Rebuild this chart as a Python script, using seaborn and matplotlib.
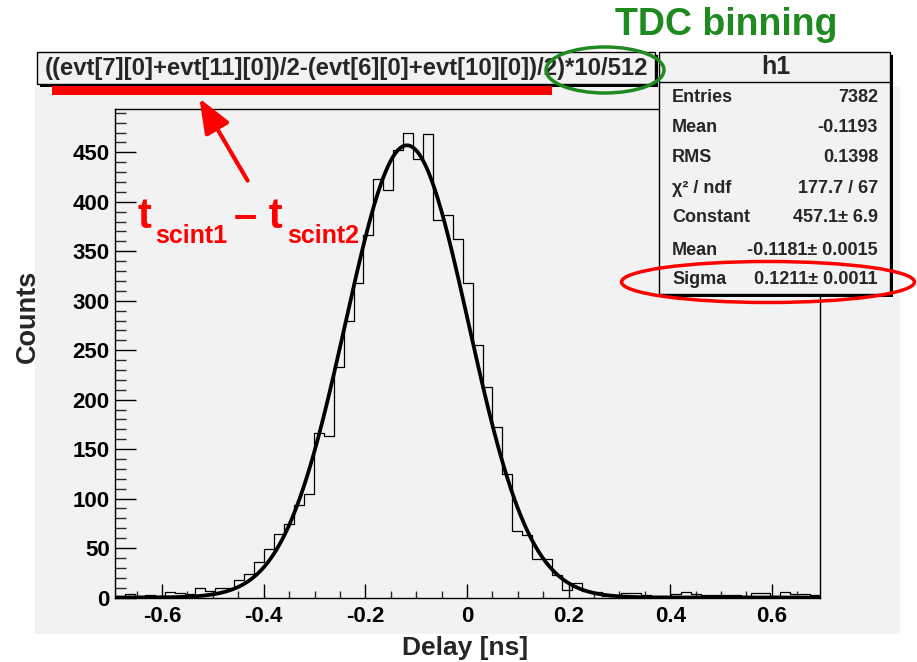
import numpy as np
import pandas as pd
import matplotlib
matplotlib.use("Agg")
import matplotlib.pyplot as plt
import seaborn as sns
from matplotlib.patches import Rectangle, Ellipse, FancyArrowPatch
from matplotlib.ticker import MultipleLocator, FixedLocator

sns.set_style("ticks")
plt.rcParams["font.family"] = ["Liberation Sans", "DejaVu Sans"]
plt.rcParams["font.weight"] = "bold"

# ---------------- data ----------------
BIN_WIDTH = 10 / 512
X_MIN = -0.692
COUNTS = [1, 4, 2, 3, 2, 6, 5, 4, 10, 7, 10, 10,
          18, 24, 36, 49, 64, 74, 93, 105, 166, 163,
          233, 280, 318, 366, 423, 412, 452, 470, 443, 469,
          382, 387, 362, 318, 255, 213, 172, 125, 67, 63,
          39, 39, 23,
          8, 15, 7, 6, 2, 2, 5, 5, 3, 1, 1, 4, 6, 4, 3, 3, 3, 3, 2, 5, 5, 2, 6, 4, 4, 3]
FIT_CONSTANT = 457.1
FIT_MEAN = -0.1181
FIT_SIGMA = 0.1211

XTICKS = [-0.6, -0.4, -0.2, 0.0, 0.2, 0.4, 0.6]
XTICK_LABELS = ["-0.6", "-0.4", "-0.2", "0", "0.2", "0.4", "0.6"]

TITLE = "((evt[7][0]+evt[11][0])/2-(evt[6][0]+evt[10][0])/2)*10/512"
STAT_NAME = "h1"
STAT_LABELS = ["Entries", "Mean", "RMS", "\u03c7\u00b2 / ndf", "Constant", "Mean", "Sigma"]
STAT_VALUES = ["7382", "-0.1193", "0.1398", "177.7 / 67", "457.1\u00b1 6.9",
               "-0.1181\u00b1 0.0015", "0.1211\u00b1 0.0011"]
XLABEL = "Delay [ns]"
YLABEL = "Counts"
NOTE = "TDC binning"

# ---------------- derived ----------------
edges = X_MIN + BIN_WIDTH * np.arange(len(COUNTS) + 1)
centers = 0.5 * (edges[:-1] + edges[1:])
hist_df = pd.DataFrame({"delay": centers, "counts": COUNTS})
xs = np.linspace(edges[0], edges[-1], 600)
fit_df = pd.DataFrame({"delay": xs,
                       "fit": FIT_CONSTANT * np.exp(-0.5 * ((xs - FIT_MEAN) / FIT_SIGMA) ** 2)})

W, H = 917, 662
fig = plt.figure(figsize=(W / 100, H / 100), dpi=100, facecolor="white")


def fx(px):
    return px / W


def fy(py):
    return 1 - py / H


GRAY = "#f2f2f2"
fig.patches.append(Rectangle((fx(35), fy(634)), fx(900) - fx(35), fy(86) - fy(634),
                             transform=fig.transFigure, facecolor=GRAY, edgecolor="none", zorder=-5))

ax = fig.add_axes([fx(115.3), fy(597.5), fx(820) - fx(115.3), fy(109.3) - fy(597.5)])
ax.set_facecolor(GRAY)

sns.histplot(data=hist_df, x="delay", weights="counts", bins=edges.tolist(), element="step",
             fill=False, color="black", linewidth=0.9, ax=ax)
sns.lineplot(data=fit_df, x="delay", y="fit", color="black", linewidth=2.7, ax=ax)

ax.set_xlim(edges[0], edges[-1])
ax.set_ylim(0, 1.05 * max(COUNTS))
ax.set_xlabel("")
ax.set_ylabel("")
ax.xaxis.set_major_locator(FixedLocator(XTICKS))
ax.set_xticklabels(XTICK_LABELS)
ax.xaxis.set_minor_locator(MultipleLocator(0.05))
ax.yaxis.set_major_locator(MultipleLocator(50))
ax.yaxis.set_minor_locator(MultipleLocator(10))
ax.tick_params(axis="x", which="major", direction="in", length=10, width=1, labelsize=16, pad=6,
               top=False, colors="black")
ax.tick_params(axis="x", which="minor", direction="in", length=5, width=1, top=False)
ax.tick_params(axis="y", which="major", direction="in", length=15, width=1, labelsize=16, pad=4,
               right=False, colors="black")
ax.tick_params(axis="y", which="minor", direction="in", length=8, width=1, right=False)
for lab in ax.get_xticklabels() + ax.get_yticklabels():
    lab.set_fontweight("bold")
for s in ax.spines.values():
    s.set_visible(True)
    s.set_color("black")
    s.set_linewidth(1.0)

# axis titles
fig.text(fx(465), fy(648), XLABEL, ha="center", va="center", fontsize=19, weight="bold")
fig.text(fx(28), fy(316), YLABEL, ha="center", va="center", rotation=90, fontsize=19.5, weight="bold")


def box(x0, y0, x1, y1):
    fig.patches.append(Rectangle((fx(x0 + 3), fy(y1 + 3)), fx(x1) - fx(x0), fy(y0) - fy(y1),
                                 transform=fig.transFigure, facecolor="black", edgecolor="none", zorder=5))
    fig.patches.append(Rectangle((fx(x0), fy(y1)), fx(x1) - fx(x0), fy(y0) - fy(y1),
                                 transform=fig.transFigure, facecolor=GRAY, edgecolor="black",
                                 linewidth=1, zorder=5.1))


# title box
box(37, 52, 655, 84)
fig.text(fx(346), fy(69), TITLE, ha="center", va="center", fontsize=17.2, weight="bold", zorder=6)
# red underline
fig.patches.append(Rectangle((fx(52), fy(95)), fx(552) - fx(52), fy(86) - fy(95),
                             transform=fig.transFigure, facecolor="red", edgecolor="none", zorder=6))

# stats box
box(659, 52, 890, 294)
fig.lines.append(plt.Line2D([fx(659), fx(890)], [fy(82), fy(82)], transform=fig.transFigure,
                            color="black", lw=1, zorder=6))
fig.text(fx(776), fy(67), STAT_NAME, ha="center", va="center", fontsize=18, weight="bold", zorder=6)
row_y = [98, 128, 158, 188, 218, 250, 279]
for yy, lab, val in zip(row_y, STAT_LABELS, STAT_VALUES):
    fig.text(fx(672), fy(yy), lab, ha="left", va="center", fontsize=13, weight="bold", zorder=6)
    fig.text(fx(878), fy(yy), val, ha="right", va="center", fontsize=13, weight="bold", zorder=6)

# annotations
fig.patches.append(Ellipse((fx(768), fy(282)), 293 / W, 41 / H, transform=fig.transFigure,
                           facecolor="none", edgecolor="red", linewidth=2.5, zorder=7))
fig.patches.append(Ellipse((fx(605), fy(70)), 118 / W, 46 / H, transform=fig.transFigure,
                           facecolor="none", edgecolor="#1f8a1f", linewidth=2.5, zorder=7))
fig.text(fx(726), fy(25), NOTE, ha="center", va="center", fontsize=27, weight="bold",
         color="#1f8a1f", zorder=7)

arrow = FancyArrowPatch((fx(249), fy(183)), (fx(198), fy(96)), transform=fig.transFigure,
                        arrowstyle="-|>,head_length=1.5,head_width=0.6", mutation_scale=14,
                        color="red", linewidth=3, zorder=7)
fig.patches.append(arrow)

fig.text(fx(138), fy(228), "t", ha="left", va="baseline", fontsize=30, weight="bold", color="red", zorder=7)
fig.text(fx(155), fy(243), "scint1", ha="left", va="baseline", fontsize=18, weight="bold", color="red", zorder=7)
fig.text(fx(234), fy(228), "\u2013 t", ha="left", va="baseline", fontsize=30, weight="bold", color="red", zorder=7)
fig.text(fx(287), fy(243), "scint2", ha="left", va="baseline", fontsize=18, weight="bold", color="red", zorder=7)

fig.savefig("out.png", dpi=100, facecolor="white")
